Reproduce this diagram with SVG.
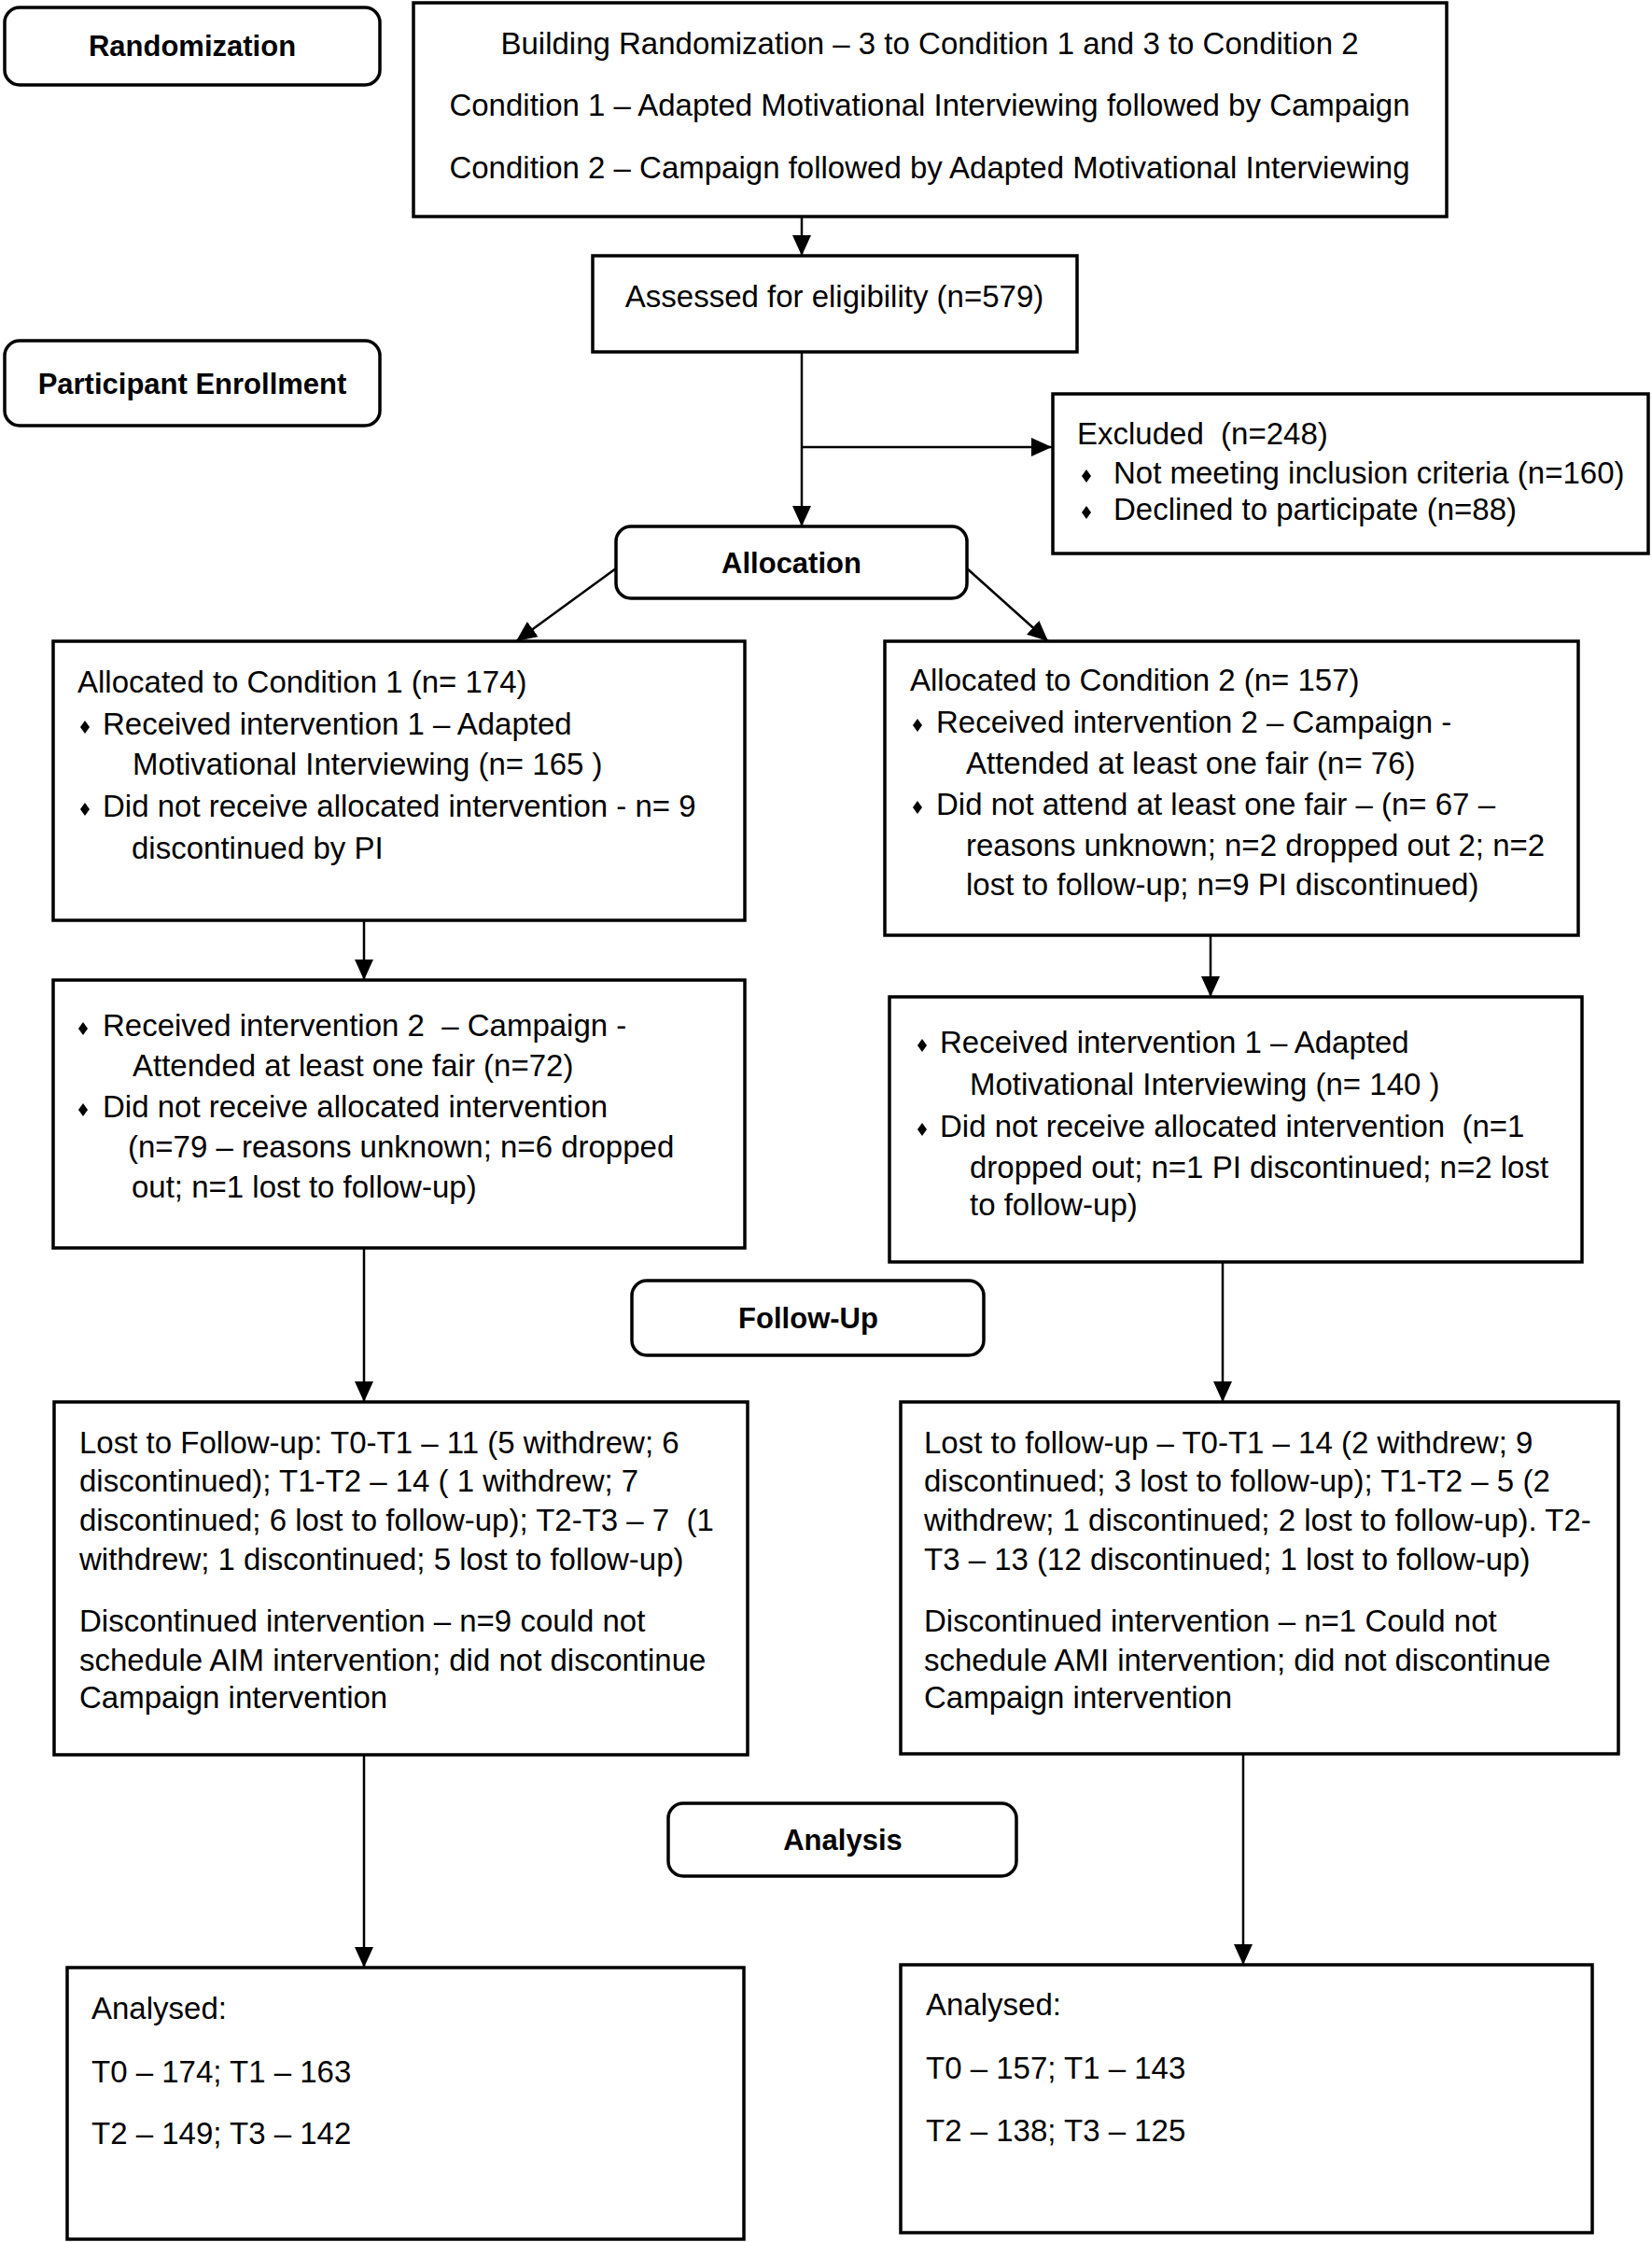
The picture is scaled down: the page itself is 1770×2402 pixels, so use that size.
<svg xmlns="http://www.w3.org/2000/svg" width="1770" height="2402" viewBox="0 0 1770 2402">
<defs>
<style>
.box{fill:#fff;stroke:#000;stroke-width:3.5}
.lbl{fill:#fff;stroke:#000;stroke-width:3.5}
.t{font-family:"Liberation Sans",Arial,sans-serif;font-size:33px;fill:#000;white-space:pre}
.b{font-family:"Liberation Sans",Arial,sans-serif;font-size:31px;font-weight:bold;fill:#000;text-anchor:middle}
.c{text-anchor:middle}
.con{stroke:#000;stroke-width:2.5;fill:none;marker-end:url(#ah)}
</style>
<marker id="ah" markerUnits="userSpaceOnUse" markerWidth="22" markerHeight="20" refX="22" refY="10" orient="auto">
<path d="M0,0 L22,10 L0,20 Z" fill="#000"/>
</marker>
<path id="dia" d="M0,-7 L5,0 L0,7 L-5,0 Z" fill="#000"/>
</defs>
<rect width="1770" height="2402" fill="#fff"/>

<g id="connectors">
<line class="con" x1="859" y1="233" x2="859" y2="274"/>
<line class="con" x1="859" y1="377" x2="859" y2="564"/>
<line class="con" x1="859" y1="479" x2="1127" y2="479"/>
<line class="con" x1="660" y1="609" x2="553" y2="687"/>
<line class="con" x1="1036" y1="609" x2="1123" y2="687"/>
<line class="con" x1="390" y1="986" x2="390" y2="1050"/>
<line class="con" x1="1297" y1="1002" x2="1297" y2="1068"/>
<line class="con" x1="390" y1="1337" x2="390" y2="1502"/>
<line class="con" x1="1310" y1="1352" x2="1310" y2="1502"/>
<line class="con" x1="390" y1="1880" x2="390" y2="2108"/>
<line class="con" x1="1332" y1="1879" x2="1332" y2="2105"/>
</g>

<g id="randomization-label">
<rect class="lbl" x="5" y="8" width="402" height="83" rx="16"/>
<text class="b" x="206" y="60">Randomization</text>
</g>

<g id="enrollment-label">
<rect class="lbl" x="5" y="365" width="402" height="91" rx="16"/>
<text class="b" x="206" y="422">Participant Enrollment</text>
</g>

<g id="building-randomization">
<rect class="box" x="443" y="3" width="1107" height="229"/>
<text class="t c" x="996" y="58">Building Randomization – 3 to Condition 1 and 3 to Condition 2</text>
<text class="t c" x="996" y="124">Condition 1 – Adapted Motivational Interviewing followed by Campaign</text>
<text class="t c" x="996" y="191">Condition 2 – Campaign followed by Adapted Motivational Interviewing</text>
</g>

<g id="assessed">
<rect class="box" x="635" y="274" width="519" height="103"/>
<text class="t c" x="894" y="329">Assessed for eligibility (n=579)</text>
</g>

<g id="excluded">
<rect class="box" x="1128" y="422" width="638" height="171"/>
<text class="t" x="1154" y="476" xml:space="preserve">Excluded  (n=248)</text>
<use href="#dia" x="1164" y="510"/>
<text class="t" x="1193" y="518">Not meeting inclusion criteria (n=160)</text>
<use href="#dia" x="1164" y="549"/>
<text class="t" x="1193" y="557">Declined to participate (n=88)</text>
</g>

<g id="allocation-label">
<rect class="lbl" x="660" y="564" width="376" height="77" rx="16"/>
<text class="b" x="848" y="614">Allocation</text>
</g>

<g id="allocated-1">
<rect class="box" x="57" y="687" width="741" height="299"/>
<text class="t" x="83" y="742">Allocated to Condition 1 (n= 174)</text>
<use href="#dia" x="91" y="779"/>
<text class="t" x="110" y="787">Received intervention 1 – Adapted</text>
<text class="t" x="142" y="830">Motivational Interviewing (n= 165 )</text>
<use href="#dia" x="91" y="867"/>
<text class="t" x="110" y="875">Did not receive allocated intervention - n= 9</text>
<text class="t" x="141" y="920">discontinued by PI</text>
</g>

<g id="allocated-2">
<rect class="box" x="948" y="687" width="743" height="315"/>
<text class="t" x="975" y="740">Allocated to Condition 2 (n= 157)</text>
<use href="#dia" x="983" y="777"/>
<text class="t" x="1003" y="785">Received intervention 2 – Campaign -</text>
<text class="t" x="1035" y="829">Attended at least one fair (n= 76)</text>
<use href="#dia" x="983" y="865"/>
<text class="t" x="1003" y="873">Did not attend at least one fair – (n= 67 –</text>
<text class="t" x="1035" y="917">reasons unknown; n=2 dropped out 2; n=2</text>
<text class="t" x="1035" y="959">lost to follow-up; n=9 PI discontinued)</text>
</g>

<g id="cond1-second">
<rect class="box" x="57" y="1050" width="741" height="287"/>
<use href="#dia" x="89" y="1102"/>
<text class="t" x="110" y="1110" xml:space="preserve">Received intervention 2  – Campaign -</text>
<text class="t" x="142" y="1153">Attended at least one fair (n=72)</text>
<use href="#dia" x="89" y="1189"/>
<text class="t" x="110" y="1197">Did not receive allocated intervention</text>
<text class="t" x="137" y="1240">(n=79 – reasons unknown; n=6 dropped</text>
<text class="t" x="141" y="1283">out; n=1 lost to follow-up)</text>
</g>

<g id="cond2-second">
<rect class="box" x="953" y="1068" width="742" height="284"/>
<use href="#dia" x="988" y="1120"/>
<text class="t" x="1007" y="1128">Received intervention 1 – Adapted</text>
<text class="t" x="1039" y="1173">Motivational Interviewing (n= 140 )</text>
<use href="#dia" x="988" y="1210"/>
<text class="t" x="1007" y="1218" xml:space="preserve">Did not receive allocated intervention  (n=1</text>
<text class="t" x="1039" y="1262">dropped out; n=1 PI discontinued; n=2 lost</text>
<text class="t" x="1039" y="1302">to follow-up)</text>
</g>

<g id="followup-label">
<rect class="lbl" x="677" y="1372" width="377" height="80" rx="16"/>
<text class="b" x="866" y="1423">Follow-Up</text>
</g>

<g id="followup-1">
<rect class="box" x="58" y="1502" width="743" height="378"/>
<text class="t" x="85" y="1557">Lost to Follow-up: T0-T1 – 11 (5 withdrew; 6</text>
<text class="t" x="85" y="1598">discontinued); T1-T2 – 14 ( 1 withdrew; 7</text>
<text class="t" x="85" y="1640" xml:space="preserve">discontinued; 6 lost to follow-up); T2-T3 – 7  (1</text>
<text class="t" x="85" y="1682">withdrew; 1 discontinued; 5 lost to follow-up)</text>
<text class="t" x="85" y="1748">Discontinued intervention – n=9 could not</text>
<text class="t" x="85" y="1790">schedule AIM intervention; did not discontinue</text>
<text class="t" x="85" y="1830">Campaign intervention</text>
</g>

<g id="followup-2">
<rect class="box" x="965" y="1502" width="769" height="377"/>
<text class="t" x="990" y="1557">Lost to follow-up – T0-T1 – 14 (2 withdrew; 9</text>
<text class="t" x="990" y="1598">discontinued; 3 lost to follow-up); T1-T2 – 5 (2</text>
<text class="t" x="990" y="1640">withdrew; 1 discontinued; 2 lost to follow-up). T2-</text>
<text class="t" x="990" y="1682">T3 – 13 (12 discontinued; 1 lost to follow-up)</text>
<text class="t" x="990" y="1748">Discontinued intervention – n=1 Could not</text>
<text class="t" x="990" y="1790">schedule AMI intervention; did not discontinue</text>
<text class="t" x="990" y="1830">Campaign intervention</text>
</g>

<g id="analysis-label">
<rect class="lbl" x="716" y="1932" width="373" height="78" rx="16"/>
<text class="b" x="903" y="1982">Analysis</text>
</g>

<g id="analysed-1">
<rect class="box" x="72" y="2108" width="725" height="291"/>
<text class="t" x="98" y="2163">Analysed:</text>
<text class="t" x="98" y="2231">T0 – 174; T1 – 163</text>
<text class="t" x="98" y="2297">T2 – 149; T3 – 142</text>
</g>

<g id="analysed-2">
<rect class="box" x="965" y="2105" width="741" height="287"/>
<text class="t" x="992" y="2159">Analysed:</text>
<text class="t" x="992" y="2227">T0 – 157; T1 – 143</text>
<text class="t" x="992" y="2294">T2 – 138; T3 – 125</text>
</g>
</svg>
